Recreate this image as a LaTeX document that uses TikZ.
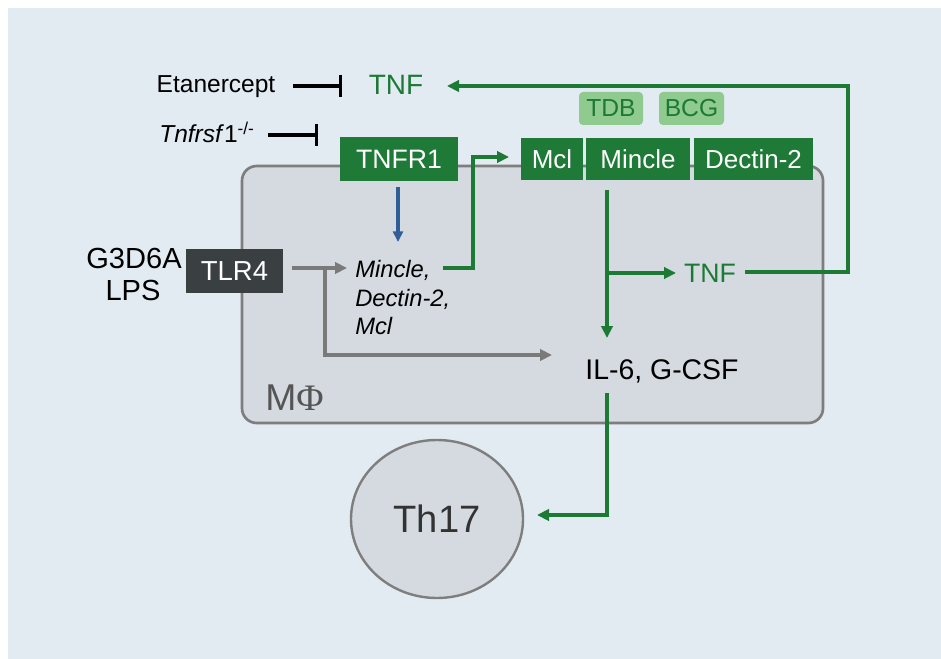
\documentclass[tikz,border=0pt]{standalone}
\usepackage{fontspec}
\setmainfont{Liberation Sans}
\newfontfamily\phifont{Liberation Serif}
\usetikzlibrary{arrows.meta,shapes.geometric}
\definecolor{panel}{HTML}{E2EAF2}
\definecolor{cellfill}{HTML}{D4DAE0}
\definecolor{cellborder}{HTML}{7E7E7E}
\definecolor{tgreen}{HTML}{1C7A35}
\definecolor{gfill}{HTML}{1E7A36}
\definecolor{lgreen}{HTML}{8FCB8F}
\definecolor{tlrfill}{HTML}{3A3F42}
\definecolor{arrblue}{HTML}{2F5F96}
\definecolor{arrgray}{HTML}{7A7A7A}
\definecolor{phigray}{HTML}{555555}
\begin{document}
\begin{tikzpicture}[x=0.75pt,y=-0.75pt,
  lbl/.style={inner sep=0pt},
  gbox/.style={fill=gfill,text=white,inner sep=0pt,minimum height=31.5pt,font=\fontsize{19.5}{23}\selectfont},
  lgbox/.style={fill=lgreen,text=tgreen,inner sep=0pt,rounded corners=3pt,minimum height=24.75pt,minimum width=48pt,font=\fontsize{18.5}{22}\selectfont},
  gline/.style={draw=tgreen,line width=2.6pt},
  garr/.style={gline,-{Triangle[length=9pt,width=8.5pt]}},
  grarr/.style={draw=arrgray,line width=2.6pt,-{Triangle[length=9pt,width=8.5pt]}},
  inh/.style={draw=black,line width=2.6pt,-{Bar[width=17pt]}}]
\useasboundingbox (0,0) rectangle (941,659);
\fill[white] (0,0) rectangle (941,659);
\fill[panel] (8,8) rectangle (941,659);

% cell
\node[draw=cellborder,fill=cellfill,line width=2pt,rounded corners=11pt,inner sep=0pt,
  minimum width=435.75pt,minimum height=192.75pt] (cell) at (532.5,294.5) {};
\node[lbl,anchor=base west,text=phigray,font=\fontsize{28}{32}\selectfont] (mphi) at (265,410) {M{\phifont Φ}};

% top labels
\node[lbl,anchor=base,font=\fontsize{18.4}{22}\selectfont] (etan) at (216,93) {Etanercept};
\node[lbl,anchor=base,text=tgreen,font=\fontsize{21}{24}\selectfont] (tnftop) at (396,95) {TNF};
\node[lbl,anchor=base west,font=\fontsize{18.4}{22}\selectfont] (tnfrsf) at (159,143) {\textit{Tnfrsf}1\textsuperscript{-/-}};

\coordinate (etanA) at (293,86);
\coordinate (etanB) at (342,86);
\draw[inh] (etanA) -- (etanB);
\coordinate (tnfrA) at (268,135);
\coordinate (tnfrB) at (318,135);
\draw[inh] (tnfrA) -- (tnfrB);

% receptor boxes
\node[gbox,minimum width=88.5pt,minimum height=33pt,font=\fontsize{20}{24}\selectfont] (tnfr1) at (399,159) {TNFR1};
\node[gbox,minimum width=46.5pt] (mcl) at (552,159) {Mcl};
\node[gbox,minimum width=78pt] (mincle) at (638,159) {Mincle};
\node[gbox,minimum width=89.25pt] (dectin) at (753.5,159) {Dectin-2};
\node[lgbox] (tdb) at (611,108.5) {TDB};
\node[lgbox,minimum width=48.75pt] (bcg) at (691.5,108.5) {BCG};

% TLR4 and ligands
\node[fill=tlrfill,text=white,inner sep=0pt,minimum width=72.75pt,minimum height=33pt,
  font=\fontsize{20.6}{24}\selectfont] (tlr4) at (234.5,271) {TLR4};
\node[lbl,anchor=base,font=\fontsize{21.8}{26}\selectfont] (g3d) at (134,268) {G3D6A};
\node[lbl,anchor=base,font=\fontsize{21.8}{26}\selectfont] (lps) at (133,300) {LPS};

% induced genes
\node[lbl,anchor=base west,font=\itshape\fontsize{17.8}{21}\selectfont] (m1) at (355,277) {Mincle,};
\node[lbl,anchor=base west,font=\itshape\fontsize{17.8}{21}\selectfont] (m2) at (355,306) {Dectin-2,};
\node[lbl,anchor=base west,font=\itshape\fontsize{17.8}{21}\selectfont] (m3) at (355,334) {Mcl};

% cytokines
\node[lbl,anchor=base,text=tgreen,font=\fontsize{20}{24}\selectfont] (tnfin) at (710,282) {TNF};
\node[lbl,anchor=base,font=\fontsize{21.3}{25}\selectfont] (il6) at (662,379) {IL-6, G-CSF};

% Th17
\node[ellipse,draw=cellborder,fill=cellfill,line width=1.8pt,inner sep=0pt,
  minimum width=129pt,minimum height=118.5pt,text=black!80,font=\fontsize{28.6}{32}\selectfont] (th17) at (437,519) {Th17};

% connectors
\coordinate (bluetop) at (398,187);
\coordinate (bluetip) at (398,242);
\draw[draw=arrblue,line width=2.3pt,-{Triangle[length=8pt,width=7.5pt]}] (bluetop) -- (bluetip);

\coordinate (gs) at (292,268);
\coordinate (gtip) at (347,268);
\coordinate (gbr) at (325,268);
\coordinate (gcorner) at (325,355);
\coordinate (iltip) at (552,355);
\draw[grarr] (gs) -- (gtip);
\draw[grarr] (gbr) -- (gcorner) -- (iltip);

\coordinate (m1out) at (443,268);
\coordinate (up1) at (473,268);
\coordinate (up2) at (473,157);
\coordinate (mcltip) at (509,157);
\draw[garr] (m1out) -- (up1) -- (up2) -- (mcltip);

\coordinate (mdown) at (607,190);
\coordinate (mtip) at (607,338);
\coordinate (tbr) at (607,273);
\coordinate (ttip) at (676,273);
\draw[garr] (mdown) -- (mtip);
\draw[garr] (tbr) -- (ttip);

\coordinate (fbs) at (745,272);
\coordinate (fb1) at (848,272);
\coordinate (fb2) at (848,86);
\coordinate (fbtip) at (447,86);
\draw[garr] (fbs) -- (fb1) -- (fb2) -- (fbtip);

\coordinate (ilout) at (607,393);
\coordinate (ilc) at (607,515);
\coordinate (thtip) at (537,515);
\draw[garr] (ilout) -- (ilc) -- (thtip);
\end{tikzpicture}
\end{document}
